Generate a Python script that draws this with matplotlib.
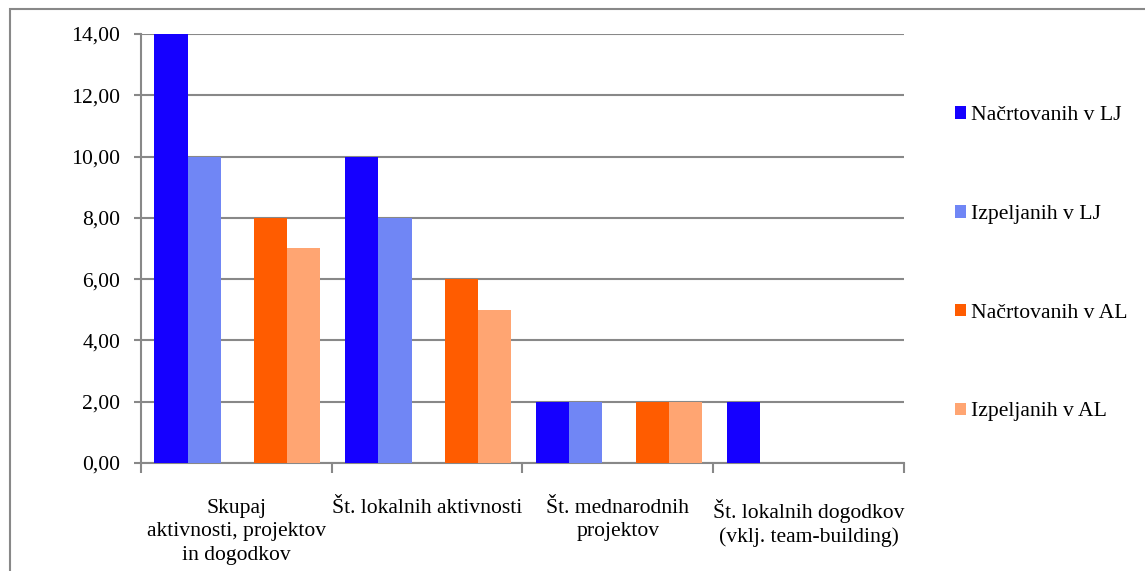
import numpy as np
import matplotlib.pyplot as plt
from matplotlib.patches import Rectangle
from matplotlib.ticker import FuncFormatter, FixedLocator

# categories and series
categories = [
    "Skupaj\naktivnosti, projektov\nin dogodkov",
    "Št. lokalnih aktivnosti",
    "Št. mednarodnih\nprojektov",
    "Št. lokalnih dogodkov\n(vklj. team-building)",
]
series_names = ["Načrtovanih v LJ", "Izpeljanih v LJ", "Načrtovanih v AL", "Izpeljanih v AL"]
planned_lj = [14, 10, 2, 2]
done_lj = [10, 8, 2, 0]
planned_al = [8, 6, 2, 0]
done_al = [7, 5, 2, 0]
colors = ["#1500FF", "#7086F5", "#FF5C00", "#FFA572"]

plt.rcParams["font.family"] = ["Liberation Serif", "DejaVu Serif"]
fs = 15.6

fig = plt.figure(figsize=(11.45, 5.71), dpi=100)
ax = fig.add_axes([0.1231, 0.1891, 0.6664, 0.7514])

x = np.arange(len(categories))
width = 0.174
offsets = [-2, -1, 1, 2]
values = [planned_lj, done_lj, planned_al, done_al]
handles = []
for vals, off, col, name in zip(values, offsets, colors, series_names):
    b = ax.bar(x + off * width + 0.006, vals, width, color=col, label=name, zorder=3)
    handles.append(b)

grid_col = "#888888"
ax.set_xlim(-0.5, len(categories) - 0.5)
ax.set_ylim(0, 14)
ax.set_yticks(np.arange(0, 15, 2))
ax.yaxis.set_major_formatter(FuncFormatter(lambda v, p: f"{v:.2f}".replace(".", ",")))
ax.yaxis.grid(True, color=grid_col, linewidth=1.5, zorder=0)

ax.set_xticks(x)
ax.set_xticklabels(categories, fontsize=fs, linespacing=1.3)
ax.xaxis.set_minor_locator(FixedLocator(np.arange(-0.5, len(categories), 1)))
ax.tick_params(axis="x", which="major", length=0, pad=26)
ax.tick_params(axis="x", which="minor", length=7, width=1.5, color=grid_col, direction="out")
ax.tick_params(axis="y", length=5, width=1.5, color=grid_col, labelsize=fs, pad=10)

for side in ["top", "right"]:
    ax.spines[side].set_visible(False)
for side in ["left", "bottom"]:
    ax.spines[side].set_color(grid_col)
    ax.spines[side].set_linewidth(1.5)

fig.legend(
    handles=handles,
    labels=series_names,
    loc="upper left",
    bbox_to_anchor=(0.817, 0.848),
    frameon=False,
    fontsize=fs,
    handlelength=0.5,
    handleheight=0.5,
    handletextpad=0.25,
    labelspacing=3.68,
)

# outer chart frame
fig.patches.append(Rectangle((10 / 1145, -0.1), 1.2, 1 - 9 / 571 + 0.1,
                             transform=fig.transFigure, fill=False,
                             edgecolor=grid_col, linewidth=1.5))

fig.savefig("out.png", dpi=100)
